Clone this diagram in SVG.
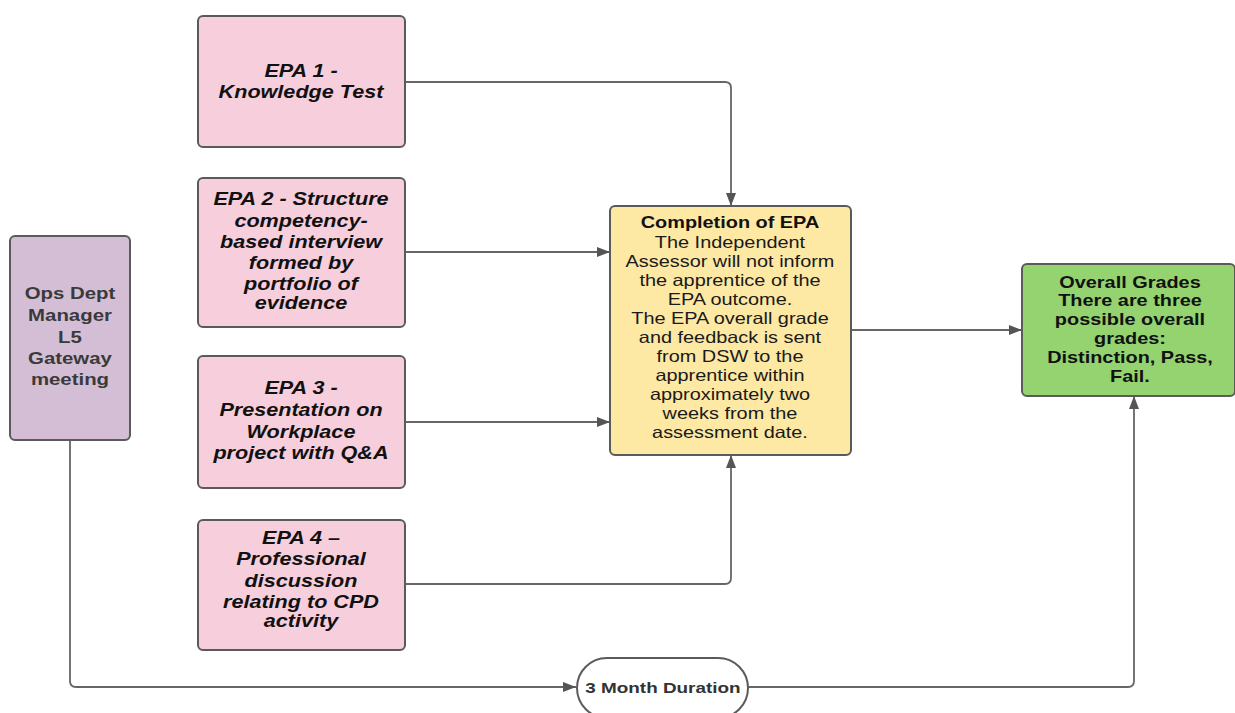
<svg xmlns="http://www.w3.org/2000/svg" width="1235" height="713" viewBox="0 0 1235 713">
<defs>
<marker id="arr" markerUnits="userSpaceOnUse" markerWidth="14" markerHeight="10" refX="13" refY="5" orient="auto">
<path d="M0,0 L13,5 L0,10 Z" fill="#555"/>
</marker>
<style>
.box{stroke:#5a5a5a;stroke-width:2}
.pink{fill:#f6cedc}
.purple{fill:#d4bed5}
.yellow{fill:#fde8a4}
.green{fill:#94d370}
.conn{fill:none;stroke:#666;stroke-width:1.8;marker-end:url(#arr)}
.epa{font-family:"Liberation Sans",Arial,sans-serif;font-weight:bold;font-style:italic;font-size:18px;fill:#111;text-anchor:middle}
.ops{font-family:"Liberation Sans",Arial,sans-serif;font-weight:bold;font-size:17px;fill:#3a3a3a;text-anchor:middle}
.body{font-family:"Liberation Sans",Arial,sans-serif;font-size:16.3px;fill:#1a1a1a;text-anchor:middle}
.bold{font-family:"Liberation Sans",Arial,sans-serif;font-weight:bold;font-size:16.3px;fill:#111;text-anchor:middle}
.dur{font-family:"Liberation Sans",Arial,sans-serif;font-weight:bold;font-size:15.5px;fill:#333;text-anchor:middle}
</style>
</defs>
<rect width="1235" height="713" fill="#ffffff"/>
<g id="connectors">
<path class="conn" d="M405,82 H725 Q731,82 731,88 V206"/>
<path class="conn" d="M405,252 H610"/>
<path class="conn" d="M405,422 H610"/>
<path class="conn" d="M405,584 H725 Q731,584 731,578 V455"/>
<path class="conn" d="M851,330 H1022"/>
<path class="conn" d="M70,440 V681 Q70,687 76,687 H576"/>
<path class="conn" d="M748,687 H1128 Q1134,687 1134,681 V396"/>
</g>
<g id="ops">
<rect class="box purple" x="10" y="236" width="120" height="204" rx="5"/>
<g transform="matrix(1.2 0 0 1 -14 0)">
<text class="ops" x="70" y="299">Ops Dept</text>
<text class="ops" x="70" y="321">Manager</text>
<text class="ops" x="70" y="343">L5</text>
<text class="ops" x="70" y="364">Gateway</text>
<text class="ops" x="70" y="385">meeting</text>
</g>
</g>
<g id="epa1">
<rect class="box pink" x="198" y="16" width="207" height="131" rx="5"/>
<g transform="matrix(1.2 0 0 1 -60.2 0)">
<text class="epa" x="301" y="77">EPA 1 -</text>
<text class="epa" x="301" y="98">Knowledge Test</text>
</g>
</g>
<g id="epa2">
<rect class="box pink" x="198" y="178" width="207" height="149" rx="5"/>
<g transform="matrix(1.2 0 0 1 -60.2 0)">
<text class="epa" x="301" y="205">EPA 2 - Structure</text>
<text class="epa" x="301" y="227">competency-</text>
<text class="epa" x="301" y="248">based interview</text>
<text class="epa" x="301" y="269">formed by</text>
<text class="epa" x="301" y="290">portfolio of</text>
<text class="epa" x="301" y="309">evidence</text>
</g>
</g>
<g id="epa3">
<rect class="box pink" x="198" y="356" width="207" height="132" rx="5"/>
<g transform="matrix(1.2 0 0 1 -60.2 0)">
<text class="epa" x="301" y="394">EPA 3 -</text>
<text class="epa" x="301" y="416">Presentation on</text>
<text class="epa" x="301" y="438">Workplace</text>
<text class="epa" x="301" y="459">project with Q&amp;A</text>
</g>
</g>
<g id="epa4">
<rect class="box pink" x="198" y="520" width="207" height="130" rx="5"/>
<g transform="matrix(1.2 0 0 1 -60.2 0)">
<text class="epa" x="301" y="544">EPA 4 –</text>
<text class="epa" x="301" y="565">Professional</text>
<text class="epa" x="301" y="587">discussion</text>
<text class="epa" x="301" y="608">relating to CPD</text>
<text class="epa" x="301" y="627">activity</text>
</g>
</g>
<g id="completion">
<rect class="box yellow" x="610" y="206" width="241" height="249" rx="5"/>
<g transform="matrix(1.22 0 0 1 -160.6 0)">
<text class="bold" x="730" y="228">Completion of EPA</text>
<text class="body" x="730" y="248">The Independent</text>
<text class="body" x="730" y="267">Assessor will not inform</text>
<text class="body" x="730" y="286">the apprentice of the</text>
<text class="body" x="730" y="305">EPA outcome.</text>
<text class="body" x="730" y="324">The EPA overall grade</text>
<text class="body" x="730" y="343">and feedback is sent</text>
<text class="body" x="730" y="362">from DSW to  the</text>
<text class="body" x="730" y="381">apprentice within</text>
<text class="body" x="730" y="400">approximately two</text>
<text class="body" x="730" y="419">weeks from the</text>
<text class="body" x="730" y="438">assessment date.</text>
</g>
</g>
<g id="grades">
<rect class="box green" x="1022" y="264" width="213" height="132" rx="5"/>
<g transform="matrix(1.22 0 0 1 -248.6 0)">
<text class="bold" x="1130" y="288">Overall Grades</text>
<text class="bold" x="1130" y="306">There are three</text>
<text class="bold" x="1130" y="325">possible overall</text>
<text class="bold" x="1130" y="344">grades:</text>
<text class="bold" x="1130" y="363">Distinction, Pass,</text>
<text class="bold" x="1130" y="382">Fail.</text>
</g>
</g>
<g id="duration">
<rect x="577" y="658" width="171" height="60" rx="30" fill="#ffffff" stroke="#5a5a5a" stroke-width="2"/>
<g transform="matrix(1.22 0 0 1 -145.9 0)">
<text class="dur" x="663" y="693">3 Month Duration</text>
</g>
</g>
</svg>
